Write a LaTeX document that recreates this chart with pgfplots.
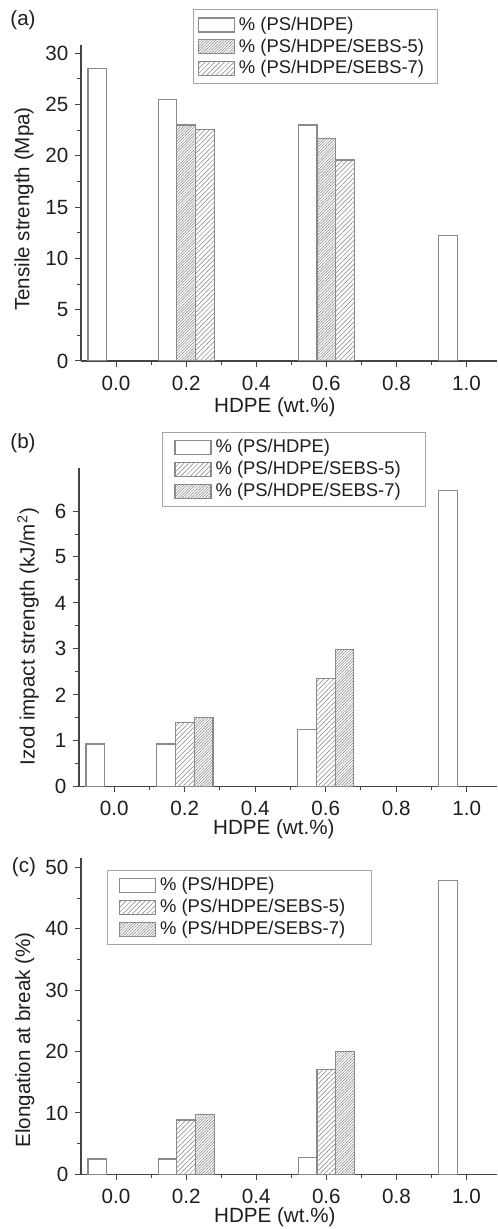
\documentclass[border=0pt]{standalone}
\usepackage{fontspec}
\setmainfont{Liberation Sans}
\usepackage{pgfplots}
\pgfplotsset{compat=1.18}
\usetikzlibrary{patterns.meta}
\definecolor{barline}{HTML}{8A8A8A}
\definecolor{hatch}{HTML}{808080}
\definecolor{axisgray}{HTML}{444444}
\definecolor{txt}{HTML}{1E1E1E}
\pgfplotsset{
  myaxis/.style={
    scale only axis,
    anchor=south west,
    axis lines=left,
    axis line style={-, axisgray, line width=0.6pt},
    every tick/.style={axisgray, line width=0.5pt},
    tick align=outside,
    major tick length=2.8pt,
    minor tick length=1.8pt,
    xmin=-0.1,
    ymin=0,
    xtick={0,0.2,0.4,0.6,0.8,1.0},
    minor x tick num=1,
    minor y tick num=1,
    xticklabel style={/pgf/number format/.cd, fixed, fixed zerofill, precision=1},
    xticklabel shift=1pt,
    /pgf/number format/assume math mode=true,
    tick label style={font=\fontsize{10.3}{12}\selectfont, text=txt},
    label style={font=\fontsize{10.3}{12}\selectfont, text=txt},
    xlabel={HDPE (wt.\%)},
    ybar,
    bar width=0.0533,
    legend cell align=left,
    legend style={font=\fontsize{9.2}{10.75}\selectfont, text=txt, draw=gray!70, line width=0.5pt,
      anchor=north west, inner ysep=1.5pt, row sep=-1.2pt},
    legend image code/.code={\draw[##1] (0pt,-3.5pt) rectangle (18pt,3.5pt);},
  },
  pshdpe/.style={draw=barline, line width=0.6pt, fill=white, bar shift=-0.0533},
  dense/.style={draw=barline, line width=0.6pt, pattern={Lines[angle=45,distance=1.0pt,line width=0.25pt]}, pattern color=hatch},
  sparse/.style={draw=barline, line width=0.6pt, pattern={Lines[angle=45,distance=1.7pt,line width=0.25pt]}, pattern color=hatch},
}
\begin{document}
\begin{tikzpicture}
\useasboundingbox (0,0) rectangle (248.5pt,-614.5pt);
% ---------- (a)
\begin{axis}[myaxis,
  at={(40.5pt,-180.5pt)}, width=208pt, height=158pt,
  xmax=1.087, ymax=30.8,
  ytick={0,5,10,15,20,25,30},
  ylabel={Tensile strength (Mpa)},
  ylabel style={at={(axis description cs:-0.137,0.481)}, anchor=center},
  xlabel style={at={(axis description cs:0.466,-0.146)}, anchor=center},
  legend style={at={(axis description cs:0.2685,1.113)}, inner xsep=2.3pt},
]
\addplot[pshdpe] coordinates {(0,28.5) (0.2,25.5) (0.6,23.0) (1.0,12.2)};
\addlegendentry{\% (PS/HDPE)}
\addplot[dense, bar shift=0] coordinates {(0.2,23.0) (0.6,21.7)};
\addlegendentry{\% (PS/HDPE/SEBS-5)\rule{2.2pt}{0pt}}
\addplot[sparse, bar shift=0.0533] coordinates {(0.2,22.6) (0.6,19.6)};
\addlegendentry{\% (PS/HDPE/SEBS-7)\rule{2.2pt}{0pt}}
\end{axis}
\node[font=\fontsize{10.3}{12}\selectfont, text=txt] at (11.5pt,-10pt) {(a)};
% ---------- (b)
\begin{axis}[myaxis,
  at={(39.5pt,-393.35pt)}, width=209pt, height=159.2pt,
  xmax=1.086, ymax=6.93,
  ytick={0,1,2,3,4,5,6},
  ylabel={Izod impact strength (kJ/m\textsuperscript{2})},
  ylabel style={at={(axis description cs:-0.122,0.471)}, anchor=center},
  xlabel style={at={(axis description cs:0.466,-0.132)}, anchor=center},
  legend style={at={(axis description cs:0.199,1.115)}, inner xsep=5.85pt},
]
\addplot[pshdpe] coordinates {(0,0.93) (0.2,0.93) (0.6,1.25) (1.0,6.44)};
\addlegendentry{\% (PS/HDPE)}
\addplot[sparse, bar shift=0] coordinates {(0.2,1.40) (0.6,2.36)};
\addlegendentry{\% (PS/HDPE/SEBS-5)\rule{4.5pt}{0pt}}
\addplot[dense, bar shift=0.0533] coordinates {(0.2,1.51) (0.6,2.99)};
\addlegendentry{\% (PS/HDPE/SEBS-7)\rule{4.5pt}{0pt}}
\end{axis}
\node[font=\fontsize{10.3}{12}\selectfont, text=txt] at (11.5pt,-221.75pt) {(b)};
% ---------- (c)
\begin{axis}[myaxis,
  at={(40.5pt,-587.15pt)}, width=208pt, height=158pt,
  xmax=1.087, ymax=51.5,
  ytick={0,10,20,30,40,50},
  ylabel={Elongation at break (\%)},
  ylabel style={at={(axis description cs:-0.135,0.425)}, anchor=center},
  xlabel style={at={(axis description cs:0.466,-0.136)}, anchor=center},
  legend style={at={(axis description cs:0.062,0.963)}, inner xsep=5.8pt},
]
\addplot[pshdpe] coordinates {(0,2.5) (0.2,2.5) (0.6,2.7) (1.0,47.9)};
\addlegendentry{\% (PS/HDPE)}
\addplot[sparse, bar shift=0] coordinates {(0.2,8.85) (0.6,17.1)};
\addlegendentry{\% (PS/HDPE/SEBS-5)\rule{5.5pt}{0pt}}
\addplot[dense, bar shift=0.0533] coordinates {(0.2,9.8) (0.6,20.0)};
\addlegendentry{\% (PS/HDPE/SEBS-7)\rule{5.5pt}{0pt}}
\end{axis}
\node[font=\fontsize{10.3}{12}\selectfont, text=txt] at (12pt,-433.5pt) {(c)};
\end{tikzpicture}
\end{document}
